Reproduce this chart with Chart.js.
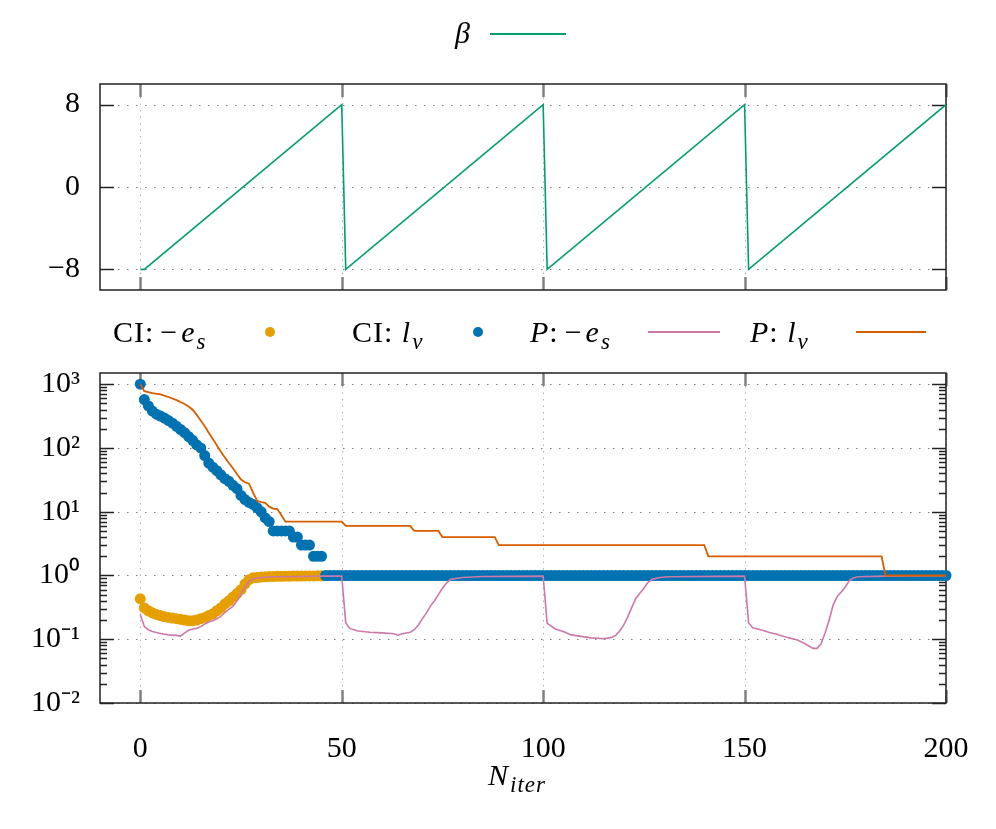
<!DOCTYPE html>
<html>
<head>
<meta charset="utf-8">
<script src="https://cdn.jsdelivr.net/npm/chart.js@4.4.1/dist/chart.umd.min.js"></script>
<style>
body { margin: 0; background: #fff; }
#wrap { position: relative; width: 996px; height: 829px; font-family: "Liberation Serif", serif; color: #000; overflow: hidden; }
canvas { position: absolute; left: 0; }
.leg { position: absolute; font-size: 30px; line-height: 1; white-space: nowrap; letter-spacing: 1px; }
.m { font-style: italic; }
.op { margin: 0 3px 0 6px; }
.sub { font-size: 23px; font-style: italic; position: relative; top: 7px; margin-left: 1px; }
.ln { position: absolute; height: 2px; }
.dot { position: absolute; width: 10px; height: 10px; border-radius: 50%; }
</style>
</head>
<body>
<div id="wrap">
  <canvas id="top" width="996" height="320" style="top:0"></canvas>
  <canvas id="bottom" width="996" height="489" style="top:340px"></canvas>

  <div class="leg m" style="left:455px; top:18px">β</div>
  <div class="ln" style="left:490px; top:33px; width:76px; background:#009E73"></div>

  <div class="leg" style="left:113px; top:317px">CI:<span class="op">−</span><span class="m">e</span><span class="sub">s</span></div>
  <div class="dot" style="left:265px; top:327px; background:#E69F00"></div>
  <div class="leg" style="left:352px; top:317px">CI: <span class="m">l</span><span class="sub">v</span></div>
  <div class="dot" style="left:473px; top:327px; background:#0072B2"></div>
  <div class="leg" style="left:530px; top:317px"><span class="m">P</span>:<span class="op">−</span><span class="m">e</span><span class="sub">s</span></div>
  <div class="ln" style="left:648px; top:331px; width:72px; background:#CC79A7"></div>
  <div class="leg" style="left:750px; top:317px"><span class="m">P</span>:  <span class="m">l</span><span class="sub">v</span></div>
  <div class="ln" style="left:856px; top:331px; width:70px; background:#D55E00"></div>

  <div class="leg" style="left:488px; top:760px"><span class="m">N</span><span class="sub">iter</span></div>
</div>
<script>
// x ticks shared by both panels
const xTicks = [0, 50, 100, 150, 200];

// top panel: beta
const betaTicks = [-8, 0, 8];
const betaTickLabels = ['−8', '0', '8'];
const betaIter = [0, 1, 50, 51, 100, 101, 150, 151, 200];
const betaVal = [-8, -8, 8, -8, 8, -8, 8, -8, 8];

// bottom panel: log axis
const logTicks = [0.01, 0.1, 1, 10, 100, 1000];
const logTickLabels = ['10⁻²', '10⁻¹', '10⁰', '10¹', '10²', '10³'];

// CI: -e_s, one value per iteration (0..45)
const ciEs = [
  0.43, 0.31, 0.28, 0.26, 0.245, 0.235, 0.225, 0.22, 0.215, 0.21,
  0.205, 0.2, 0.195, 0.195, 0.2, 0.21, 0.22, 0.235, 0.25, 0.28,
  0.31, 0.36, 0.40, 0.46, 0.52, 0.60, 0.74, 0.86, 0.92, 0.93,
  0.945, 0.955, 0.96, 0.965, 0.97, 0.97, 0.975, 0.975, 0.98, 0.98,
  0.98, 0.985, 0.985, 0.985, 0.99, 0.99
];

// CI: l_v, one value per iteration (0..200)
const ciLv = [
  1000, 575, 457, 380, 339, 316, 295, 269, 245, 219,
  195, 174, 151, 132, 112, 100, 76, 58, 50, 44,
  38, 33, 30, 26, 23, 18, 15.5, 14, 13, 11.5,
  10, 8, 7, 5, 5, 5, 5, 5, 4, 4,
  3, 3, 3, 2, 2, 2,
  1, 1, 1, 1, 1, 1, 1, 1, 1, 1, 1, 1, 1, 1, 1, 1, 1, 1, 1, 1,
  1, 1, 1, 1, 1, 1, 1, 1, 1, 1, 1, 1, 1, 1, 1, 1, 1, 1, 1, 1,
  1, 1, 1, 1, 1, 1, 1, 1, 1, 1, 1, 1, 1, 1, 1, 1, 1, 1, 1, 1,
  1, 1, 1, 1, 1, 1, 1, 1, 1, 1, 1, 1, 1, 1, 1, 1, 1, 1, 1, 1,
  1, 1, 1, 1, 1, 1, 1, 1, 1, 1, 1, 1, 1, 1, 1, 1, 1, 1, 1, 1,
  1, 1, 1, 1, 1, 1, 1, 1, 1, 1, 1, 1, 1, 1, 1, 1, 1, 1, 1, 1,
  1, 1, 1, 1, 1, 1, 1, 1, 1, 1, 1, 1, 1, 1, 1, 1, 1, 1, 1, 1,
  1, 1, 1, 1, 1, 1, 1, 1, 1, 1, 1, 1, 1, 1, 1
];

// P: -e_s
const pEsIter = [0, 1, 2, 3, 5, 7, 9, 10, 11, 12, 13, 14, 15, 16, 17, 18, 19, 20, 21, 22, 23, 24, 25, 26, 27, 28, 30, 33, 40, 45, 50,
  51, 52, 54, 57, 60, 63, 64, 65, 67, 68, 69, 70, 71, 72, 73, 74, 75, 76, 77, 80, 85, 100,
  101, 103, 105, 107, 109, 112, 115, 117, 118, 119, 120, 121, 122, 123, 124, 125, 126, 127, 129, 131, 150,
  151, 152, 154, 156, 158, 161, 163, 165, 167, 168, 169, 170, 171, 172, 173, 174, 175, 176, 177, 178, 185, 200];
const pEsVal = [0.245, 0.158, 0.141, 0.132, 0.123, 0.117, 0.115, 0.112, 0.126, 0.138, 0.145, 0.148, 0.158, 0.174, 0.186, 0.195, 0.209, 0.229, 0.263, 0.295, 0.331, 0.398, 0.50, 0.66, 0.81, 0.89, 0.93, 0.955, 0.966, 0.977, 0.977,
  0.182, 0.148, 0.135, 0.129, 0.126, 0.122, 0.116, 0.122, 0.129, 0.141, 0.166, 0.209, 0.257, 0.331, 0.398, 0.50, 0.63, 0.76, 0.87, 0.93, 0.966, 0.977,
  0.178, 0.145, 0.132, 0.117, 0.112, 0.105, 0.102, 0.107, 0.115, 0.135, 0.166, 0.224, 0.316, 0.437, 0.525, 0.63, 0.776, 0.87, 0.93, 0.955, 0.977,
  0.182, 0.151, 0.141, 0.129, 0.120, 0.105, 0.098, 0.085, 0.072, 0.072, 0.085, 0.126, 0.20, 0.347, 0.468, 0.55, 0.66, 0.83, 0.91, 0.955, 0.977, 0.99];

// P: l_v
const pLvIter = [0, 1, 3, 5, 7, 9, 11, 12, 13, 14, 15, 16, 17, 18, 19, 20, 21, 22, 23, 24, 25, 26, 27, 28, 29, 30, 31, 32, 33, 34, 35, 36,
  50, 51, 67, 68, 74, 75, 88, 89, 140, 141, 184, 185, 200];
const pLvVal = [1000, 776, 724, 692, 631, 562, 490, 447, 398, 331, 269, 219, 174, 138, 110, 87, 71, 58, 48, 39, 32, 29, 27.5, 20, 14.8, 14.1, 13.8, 12, 11.2, 11, 8.9, 7,
  7, 6, 6, 5, 5, 4, 4, 3, 3, 2, 2, 1, 1];

const zip = (xs, ys) => xs.map((x, i) => ({ x: x, y: ys[i] }));
const byIndex = ys => ys.map((y, i) => ({ x: i, y: y }));

function hline(ctx, x1, x2, y) { ctx.beginPath(); ctx.moveTo(x1, y); ctx.lineTo(x2, y); ctx.stroke(); }
function vline(ctx, x, y1, y2) { ctx.beginPath(); ctx.moveTo(x, y1); ctx.lineTo(x, y2); ctx.stroke(); }

// gnuplot-like frame: dotted grid, inward ticks on all sides, black border
const framePlugin = {
  id: 'frame',
  beforeDatasetsDraw(chart) {
    const { ctx, chartArea: a } = chart;
    const xs = chart.scales.x, ys = chart.scales.y;
    ctx.save();
    ctx.lineWidth = 1;
    ctx.strokeStyle = '#b0b0b0';
    ctx.setLineDash([1.5, 5]);
    xs.ticks.forEach(t => {
      const px = Math.round(xs.getPixelForValue(t.value)) + 0.5;
      vline(ctx, px, a.top, a.bottom);
    });
    ctx.strokeStyle = '#808080';
    ctx.setLineDash([1.5, 7.5]);
    ys.ticks.filter(t => t.major).forEach(t => {
      const py = Math.round(ys.getPixelForValue(t.value)) + 0.5;
      hline(ctx, a.left, a.right, py);
    });
    ctx.setLineDash([]);

    ctx.strokeStyle = '#808080';
    ctx.lineWidth = 2.5;
    xs.ticks.forEach(t => {
      const px = Math.round(xs.getPixelForValue(t.value)) + 0.5;
      vline(ctx, px, a.bottom, a.bottom - 13);
      vline(ctx, px, a.top, a.top + 13);
    });
    ctx.strokeStyle = '#222';
    ctx.lineWidth = 1.5;
    ys.ticks.forEach(t => {
      const py = Math.round(ys.getPixelForValue(t.value)) + 0.5;
      const len = t.major ? 14 : 7;
      hline(ctx, a.left, a.left + len, py);
      hline(ctx, a.right - len, a.right, py);
    });

    ctx.strokeStyle = '#222';
    ctx.lineWidth = 1.5;
    ctx.strokeRect(a.left, a.top, a.width, a.height);
    ctx.restore();
  }
};

const tickFont = { family: 'Liberation Serif', size: 30 };

new Chart(document.getElementById('top'), {
  type: 'line',
  data: {
    datasets: [{
      label: 'β',
      data: zip(betaIter, betaVal),
      borderColor: '#009E73',
      borderWidth: 1.6,
      pointRadius: 0,
      tension: 0
    }]
  },
  options: {
    responsive: false,
    animation: false,
    layout: { padding: { top: 84, right: 50, left: 0, bottom: 0 } },
    plugins: { legend: { display: false }, tooltip: { enabled: false } },
    scales: {
      x: {
        type: 'linear', min: -10, max: 200,
        grid: { display: false }, border: { display: false },
        afterBuildTicks: s => { s.ticks = xTicks.map(v => ({ value: v, major: true })); },
        ticks: { display: false },
        afterFit: s => { s.height = 30; }
      },
      y: {
        type: 'linear', min: -10, max: 10,
        grid: { display: false }, border: { display: false },
        afterBuildTicks: s => { s.ticks = betaTicks.map(v => ({ value: v, major: true })); },
        ticks: {
          autoSkip: false, padding: 12, font: tickFont, color: '#000',
          callback: (v, i) => betaTickLabels[i]
        },
        afterFit: s => { s.width = 100; }
      }
    }
  },
  plugins: [framePlugin]
});

new Chart(document.getElementById('bottom'), {
  type: 'line',
  data: {
    datasets: [
      {
        label: 'P: l_v',
        data: zip(pLvIter, pLvVal),
        borderColor: '#D55E00', borderWidth: 1.8, pointRadius: 0, tension: 0, order: 0
      },
      {
        label: 'P: -e_s',
        data: zip(pEsIter, pEsVal),
        borderColor: '#CC79A7', borderWidth: 1.6, pointRadius: 0, tension: 0, order: 1
      },
      {
        label: 'CI: l_v',
        data: byIndex(ciLv),
        showLine: false, pointRadius: 5.5, pointBorderWidth: 0,
        backgroundColor: '#0072B2', borderColor: '#0072B2', clip: false, order: 2
      },
      {
        label: 'CI: -e_s',
        data: byIndex(ciEs),
        showLine: false, pointRadius: 5.5, pointBorderWidth: 0,
        backgroundColor: '#E69F00', borderColor: '#E69F00', clip: false, order: 3
      }
    ]
  },
  options: {
    responsive: false,
    animation: false,
    layout: { padding: { top: 33, right: 50, left: 0, bottom: 0 } },
    plugins: { legend: { display: false }, tooltip: { enabled: false } },
    scales: {
      x: {
        type: 'linear', min: -10, max: 200,
        grid: { display: false }, border: { display: false },
        afterBuildTicks: s => { s.ticks = xTicks.map(v => ({ value: v, major: true })); },
        ticks: { autoSkip: false, maxRotation: 0, padding: 20, font: tickFont, color: '#000' },
        afterFit: s => { s.height = 126; }
      },
      y: {
        type: 'logarithmic', min: 0.01, max: 1500,
        grid: { display: false }, border: { display: false },
        afterBuildTicks: s => {
          const t = [];
          logTicks.forEach(d => {
            t.push({ value: d, major: true });
            if (d < 1000) for (let k = 2; k <= 9; k++) t.push({ value: d * k, major: false });
          });
          s.ticks = t;
        },
        ticks: {
          autoSkip: false, padding: 12, font: tickFont, color: '#000',
          callback: (v, i, ticks) => {
            const j = logTicks.findIndex(d => Math.abs(d - v) / d < 1e-6);
            return j >= 0 ? logTickLabels[j] : '';
          }
        },
        afterFit: s => { s.width = 100; }
      }
    }
  },
  plugins: [framePlugin]
});
</script>
</body>
</html>
